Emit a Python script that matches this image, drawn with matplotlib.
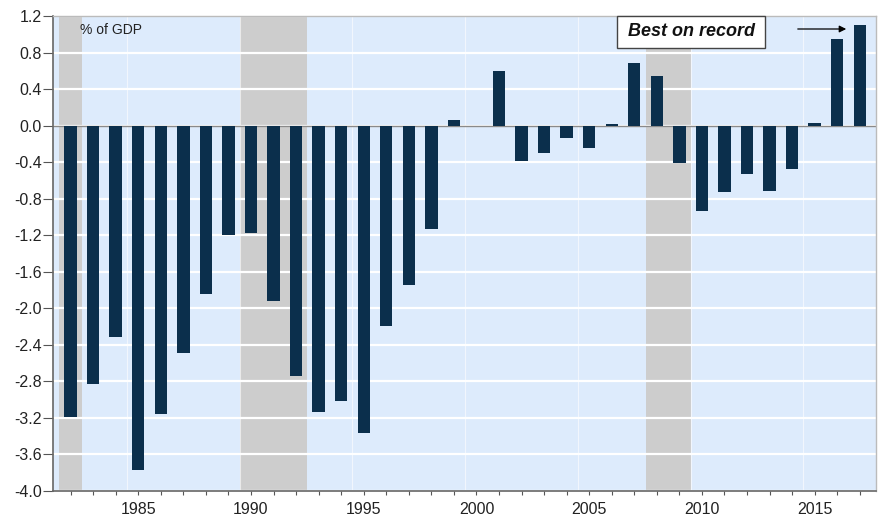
import matplotlib
matplotlib.use("Agg")
import matplotlib.pyplot as plt
from matplotlib.patches import Rectangle, FancyArrowPatch
import numpy as np

plt.rcParams['font.family'] = ['Liberation Sans', 'DejaVu Sans']

years = list(range(1982, 2018))
values = [-3.19, -2.83, -2.31, -3.77, -3.16, -2.49, -1.84, -1.20, -1.18, -1.92,
          -2.74, -3.14, -3.01, -3.36, -2.19, -1.75, -1.13, 0.06, 0.0, 0.60,
          -0.39, -0.30, -0.14, -0.25, 0.02, 0.68, 0.54, -0.41, -0.94, -0.73,
          -0.53, -0.72, -0.48, 0.03, 0.95, 1.10]
recessions = [(1981.5, 1982.5), (1989.5, 1992.5), (2007.5, 2009.5)]
yticks = [1.2, 0.8, 0.4, 0.0, -0.4, -0.8, -1.2, -1.6, -2.0, -2.4, -2.8, -3.2, -3.6, -4.0]
xtick_labels = [1985, 1990, 1995, 2000, 2005, 2010, 2015]
unit_label = "% of GDP"
annotation = "Best on record"

W, H = 883, 518
fig = plt.figure(figsize=(8.83, 5.18), dpi=100)
ax = fig.add_axes([53/W, 1-491/H, (876-53)/W, (491-16)/H])
ax.set_facecolor('#DDEBFC')
ax.set_xlim(1981.22, 2017.72)
ax.set_ylim(-4.0, 1.2)

for a, b in recessions:
    ax.axvspan(a, b, color='#CDCDCD', zorder=1, lw=0)

for y in yticks:
    ax.axhline(y, color='white', lw=1.6, zorder=1.5)
for x in np.arange(1984.5, 2017, 5):
    ax.axvline(x, color='white', lw=0.8, alpha=0.6, zorder=1.5)

ax.axhline(0, color='#8A8A8A', lw=1.0, zorder=2)
ax.bar(years, values, width=0.55, color='#0B2F4C', lw=0, zorder=3)

ax.set_yticks(yticks)
ax.set_yticklabels([f"{v:.1f}" for v in yticks])
ax.set_xticks(xtick_labels)
ax.set_xticklabels([str(v) for v in xtick_labels])
ax.set_xticks(years, minor=True)
ax.tick_params(axis='y', direction='out', length=7, width=0.8, color='#555555',
               labelsize=11.5, labelcolor='#222222', pad=1)
ax.tick_params(axis='x', which='major', direction='out', length=3, width=0.8,
               color='#555555', labelsize=11.5, labelcolor='#222222', pad=5)
ax.tick_params(axis='x', which='minor', direction='out', length=3, width=0.8, color='#555555')

for s in ['left', 'bottom']:
    ax.spines[s].set_color('#666666')
    ax.spines[s].set_linewidth(1.2)
for s in ['top', 'right']:
    ax.spines[s].set_color('#BBBBBB')
    ax.spines[s].set_linewidth(1.0)

fig.text(80/W, 1-30/H, unit_label, fontsize=10, color='#222222',
         va='center', ha='left')

fig.add_artist(Rectangle((617/W, 1-48/H), 148/W, 32/H, transform=fig.transFigure,
                         fc='white', ec='#444444', lw=1.0, zorder=5))
fig.text(691/W, 1-32/H, annotation, fontsize=13, fontweight='bold', fontstyle='italic',
         ha='center', va='center', color='#111111', zorder=6)
fig.add_artist(FancyArrowPatch(
    (795/W, 1-29/H), (849/W, 1-29/H), transform=fig.transFigure,
    arrowstyle='-|>', mutation_scale=10, color='black', lw=0.9, zorder=6))

fig.savefig('out.png', dpi=100)
